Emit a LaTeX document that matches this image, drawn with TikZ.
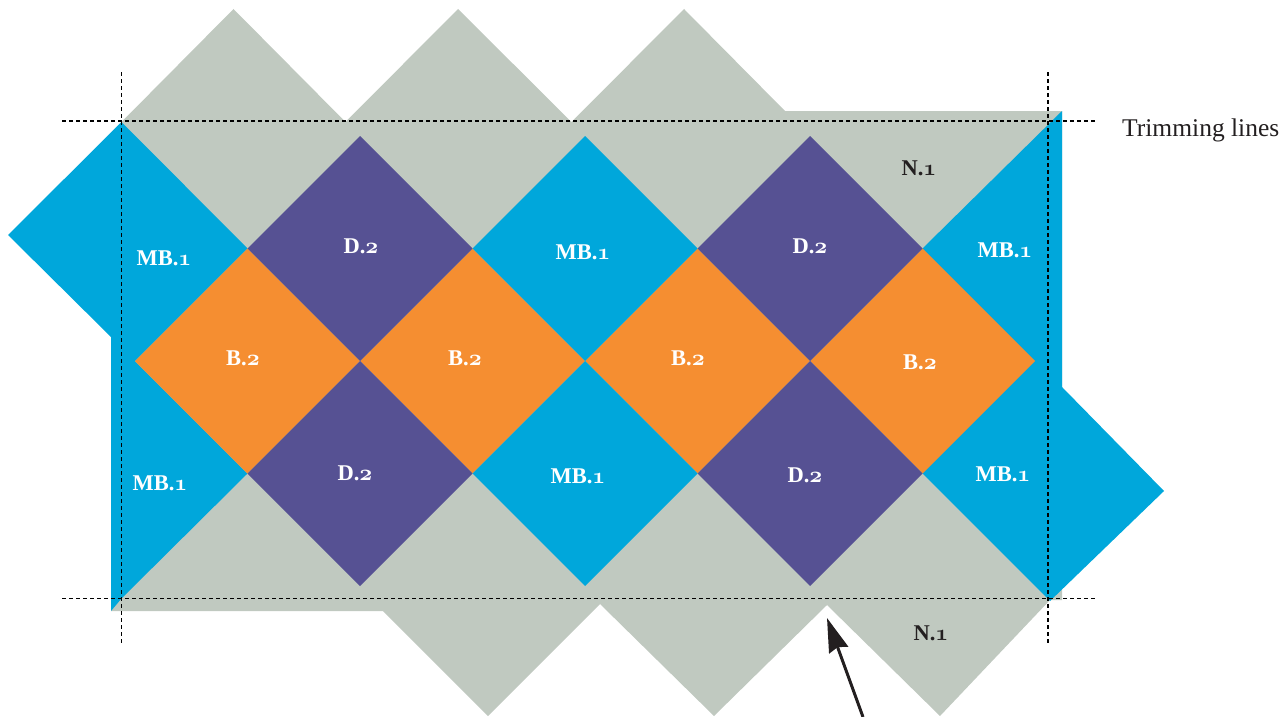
\documentclass[tikz,border=0pt]{standalone}
\usepackage{fontspec}
\setmainfont{Liberation Serif}
\usetikzlibrary{arrows.meta}
\DeclareFontShape{OML}{cmm}{b}{it}{<->cmmib10}{}
\DeclareFontShape{OML}{cmm}{m}{it}{<->cmmi10}{}
\newcommand{\osn}[1]{{\usefont{OML}{cmm}{b}{it}#1}}
\definecolor{tgrey}{RGB}{192,201,192}
\definecolor{tblue}{RGB}{0,167,219}
\definecolor{tpurple}{RGB}{86,81,147}
\definecolor{torange}{RGB}{245,142,49}
\definecolor{tdark}{RGB}{35,31,32}
\newcommand{\mydiamond}[3]{\fill[#1] (#2-112.5,#3) -- (#2,#3-112.5) -- (#2+112.5,#3) -- (#2,#3+112.5) -- cycle;}
\tikzset{
  trimline/.style={draw=black, line width=1.1pt, dash pattern=on 4pt off 3pt},
  lbl/.style={text=white, font=\fontsize{22.5}{26}\selectfont\bfseries, inner sep=0pt},
  lbldark/.style={text=tdark, font=\fontsize{22.5}{26}\selectfont\bfseries, inner sep=0pt},
  note/.style={text=tdark, font=\fontsize{25.5}{30}\selectfont, inner sep=0pt, anchor=base west},
  pointer/.style={draw=tdark, line width=3pt, -{Stealth[length=34pt,width=20pt,inset=3pt]}}
}
\begin{document}
\begin{tikzpicture}[x=1pt,y=-1pt]
\useasboundingbox (0,0) rectangle (1287,717);
% grey background
\fill[tgrey] (121.5,122) -- (233.5,9) -- (345.5,122) -- (458,9) -- (571.5,122) -- (684,9)
  -- (785,111) -- (1062,111) -- (1062,600) -- (1050,600) -- (940,716) -- (827,605)
  -- (714,716) -- (600,604) -- (488,716) -- (383,611) -- (111,611) -- (111,337) -- cycle;
% blue side regions
\fill[tblue] (121.5,122) -- (247.5,248.5) -- (135,361) -- (247.5,473.5) -- (121.5,598.5)
  -- (111,611) -- (111,337) -- (8,235) -- cycle;
\fill[tblue] (1062,111) -- (1062,387) -- (1164,491) -- (1050,601) -- (922.5,473.5)
  -- (922.5,248.5) -- cycle;
% orange
\mydiamond{torange}{247.5}{361}
\mydiamond{torange}{472.5}{361}
\mydiamond{torange}{697.5}{361}
\mydiamond{torange}{922.5}{361}
% purple
\mydiamond{tpurple}{360}{248.5}
\mydiamond{tpurple}{810}{248.5}
\mydiamond{tpurple}{360}{473.5}
\mydiamond{tpurple}{810}{473.5}
% middle blue
\mydiamond{tblue}{585}{248.5}
\mydiamond{tblue}{585}{473.5}
% trimming lines
\draw[trimline] (62,121) -- (1097,121);
\draw[trimline] (62,598.5) -- (1097,598.5);
\draw[trimline] (121.5,72) -- (121.5,645);
\draw[trimline] (1048,72) -- (1048,645);
% labels
\node[lbl] (mb1) at (164,258) {MB.\osn{1}};
\node[lbl] (d1) at (361,246) {D.\osn{2}};
\node[lbl] (mb2) at (583,252) {MB.\osn{1}};
\node[lbl] (d2) at (810,246) {D.\osn{2}};
\node[lbl] (mb3) at (1005,250) {MB.\osn{1}};
\node[lbldark] (n1) at (919,168) {N.\osn{1}};
\node[lbl] (b1) at (243,358) {B.\osn{2}};
\node[lbl] (b2) at (465,358) {B.\osn{2}};
\node[lbl] (b3) at (688,358) {B.\osn{2}};
\node[lbl] (b4) at (920,362) {B.\osn{2}};
\node[lbl] (mb4) at (160,483) {MB.\osn{1}};
\node[lbl] (d3) at (355,473) {D.\osn{2}};
\node[lbl] (mb5) at (578,476) {MB.\osn{1}};
\node[lbl] (d4) at (805,475) {D.\osn{2}};
\node[lbl] (mb6) at (1003,474) {MB.\osn{1}};
\node[lbldark] (n2) at (931,633) {N.\osn{1}};
\node[note] (trim) at (1122,136) {Trimming lines};
% arrow
\coordinate (arrowtail) at (863,717);
\coordinate (arrowtip) at (827,618);
\draw[pointer] (arrowtail) -- (arrowtip);
\end{tikzpicture}
\end{document}
